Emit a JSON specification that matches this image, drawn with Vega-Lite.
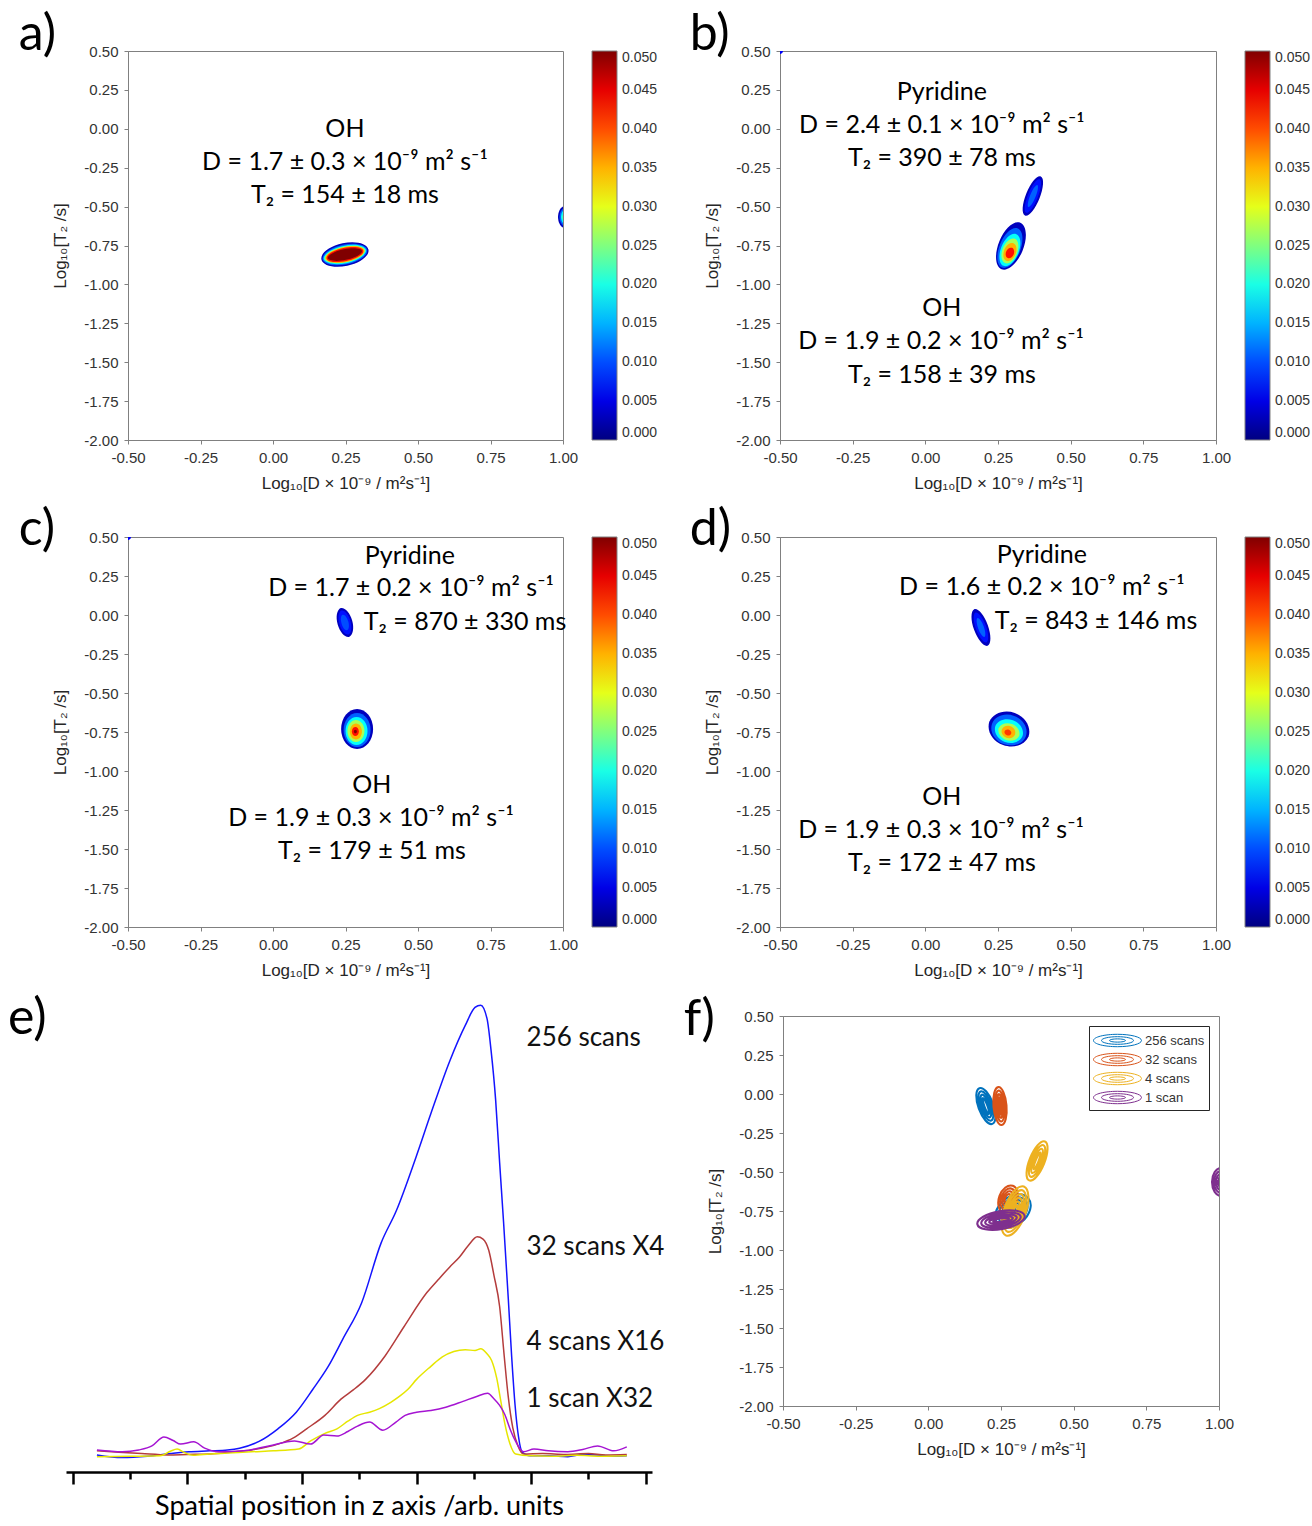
{
  "$schema": "https://vega.github.io/schema/vega-lite/v6.json",
  "background": "white",
  "padding": {"left": 0, "top": 9, "right": 0, "bottom": 0},
  "spacing": 0,
  "resolve": {"scale": {"color": "independent", "shape": "independent"}, "legend": {"color": "independent"}},
  "config": {
    "view": {"stroke": "#808080", "strokeWidth": 1},
    "axis": {"labelFont": "Liberation Sans", "labelFontSize": 15, "labelColor": "#333333", "titleFont": "Liberation Sans", "titleFontSize": 17, "titleFontWeight": "normal", "titleColor": "#262626", "domainColor": "#808080", "tickColor": "#808080", "grid": false, "labelFlush": false, "labelOverlap": false, "labelSeparation": 0, "labelBound": false, "tickSize": 4},
    "axisY": {"labelOverlap": false, "labelSeparation": 0},
    "title": {"font": "Lato", "fontSize": 50, "fontWeight": "normal", "anchor": "start", "frame": "bounds", "color": "black", "offset": -16},
    "legend": {"labelFont": "Liberation Sans", "labelFontSize": 14, "labelColor": "#333333"}
  },
  "datasets": {
    "contours": [
      {"p": "a", "id": "a1", "level": 0.003, "x": 0.248, "y": -0.808},
      {"p": "a", "id": "a2", "level": 0.011, "x": 0.248, "y": -0.808},
      {"p": "a", "id": "a3", "level": 0.019, "x": 0.248, "y": -0.808},
      {"p": "a", "id": "a4", "level": 0.027, "x": 0.248, "y": -0.808},
      {"p": "a", "id": "a5", "level": 0.035, "x": 0.248, "y": -0.808},
      {"p": "a", "id": "a6", "level": 0.043, "x": 0.248, "y": -0.808},
      {"p": "a", "id": "a7", "level": 0.05, "x": 0.248, "y": -0.808},
      {"p": "a", "id": "ae1", "level": 0.003, "x": 1.007, "y": -0.567},
      {"p": "a", "id": "ae2", "level": 0.011, "x": 1.007, "y": -0.567},
      {"p": "a", "id": "ae3", "level": 0.019, "x": 1.007, "y": -0.567},
      {"p": "a", "id": "ae4", "level": 0.025, "x": 1.007, "y": -0.567},
      {"p": "b", "id": "bc", "level": 0.006, "x": -0.5, "y": 0.5},
      {"p": "b", "id": "bu1", "level": 0.003, "x": 0.370, "y": -0.432},
      {"p": "b", "id": "bu2", "level": 0.007, "x": 0.370, "y": -0.432},
      {"p": "b", "id": "bu3", "level": 0.011, "x": 0.370, "y": -0.432},
      {"p": "b", "id": "bl1", "level": 0.003, "x": 0.2946, "y": -0.753},
      {"p": "b", "id": "bl2", "level": 0.011, "x": 0.291, "y": -0.766},
      {"p": "b", "id": "bl3", "level": 0.019, "x": 0.291, "y": -0.779},
      {"p": "b", "id": "bl4", "level": 0.027, "x": 0.291, "y": -0.785},
      {"p": "b", "id": "bl5", "level": 0.035, "x": 0.291, "y": -0.792},
      {"p": "b", "id": "bl6", "level": 0.043, "x": 0.291, "y": -0.798},
      {"p": "c", "id": "cc", "level": 0.006, "x": -0.5, "y": 0.5},
      {"p": "c", "id": "cp1", "level": 0.003, "x": 0.248, "y": -0.048},
      {"p": "c", "id": "cp2", "level": 0.007, "x": 0.248, "y": -0.048},
      {"p": "c", "id": "cp3", "level": 0.010, "x": 0.248, "y": -0.048},
      {"p": "c", "id": "co1", "level": 0.003, "x": 0.290, "y": -0.731},
      {"p": "c", "id": "co2", "level": 0.011, "x": 0.290, "y": -0.737},
      {"p": "c", "id": "co3", "level": 0.019, "x": 0.288, "y": -0.744},
      {"p": "c", "id": "co4", "level": 0.027, "x": 0.286, "y": -0.744},
      {"p": "c", "id": "co5", "level": 0.035, "x": 0.286, "y": -0.747},
      {"p": "c", "id": "co6", "level": 0.043, "x": 0.284, "y": -0.747},
      {"p": "c", "id": "co7", "level": 0.05, "x": 0.284, "y": -0.747},
      {"p": "d", "id": "dp1", "level": 0.003, "x": 0.1914, "y": -0.080},
      {"p": "d", "id": "dp2", "level": 0.007, "x": 0.1914, "y": -0.080},
      {"p": "d", "id": "dp3", "level": 0.011, "x": 0.1914, "y": -0.080},
      {"p": "d", "id": "do1", "level": 0.003, "x": 0.2877, "y": -0.731},
      {"p": "d", "id": "do2", "level": 0.011, "x": 0.2877, "y": -0.737},
      {"p": "d", "id": "do3", "level": 0.019, "x": 0.2877, "y": -0.744},
      {"p": "d", "id": "do4", "level": 0.027, "x": 0.2877, "y": -0.750},
      {"p": "d", "id": "do5", "level": 0.035, "x": 0.286, "y": -0.750},
      {"p": "d", "id": "do6", "level": 0.041, "x": 0.284, "y": -0.753}
    ],
    "labels": [
      {"p": "a", "text": "OH", "x": 0.248, "y": -0.001},
      {"p": "a", "text": "D = 1.7 ± 0.3 × 10⁻⁹ m² s⁻¹", "x": 0.248, "y": -0.213},
      {"p": "a", "text": "T₂ = 154 ± 18 ms", "x": 0.248, "y": -0.425},
      {"p": "b", "text": "Pyridine", "x": 0.057, "y": 0.236},
      {"p": "b", "text": "D = 2.4 ± 0.1 × 10⁻⁹ m² s⁻¹", "x": 0.057, "y": 0.024},
      {"p": "b", "text": "T₂ = 390 ± 78 ms", "x": 0.057, "y": -0.188},
      {"p": "b", "text": "OH", "x": 0.057, "y": -1.152},
      {"p": "b", "text": "D = 1.9 ± 0.2 × 10⁻⁹ m² s⁻¹", "x": 0.054, "y": -1.364},
      {"p": "b", "text": "T₂ = 158 ± 39 ms", "x": 0.057, "y": -1.582},
      {"p": "c", "text": "Pyridine", "x": 0.472, "y": 0.378},
      {"p": "c", "text": "D = 1.7 ± 0.2 × 10⁻⁹ m² s⁻¹", "x": 0.476, "y": 0.173},
      {"p": "c", "text": "T₂ = 870 ± 330 ms", "x": 0.662, "y": -0.045},
      {"p": "c", "text": "OH", "x": 0.341, "y": -1.090},
      {"p": "c", "text": "D = 1.9 ± 0.3 × 10⁻⁹ m² s⁻¹", "x": 0.338, "y": -1.301},
      {"p": "c", "text": "T₂ = 179 ± 51 ms", "x": 0.341, "y": -1.513},
      {"p": "d", "text": "Pyridine", "x": 0.401, "y": 0.385},
      {"p": "d", "text": "D = 1.6 ± 0.2 × 10⁻⁹ m² s⁻¹", "x": 0.401, "y": 0.179},
      {"p": "d", "text": "T₂ = 843 ± 146 ms", "x": 0.587, "y": -0.038},
      {"p": "d", "text": "OH", "x": 0.057, "y": -1.167},
      {"p": "d", "text": "D = 1.9 ± 0.3 × 10⁻⁹ m² s⁻¹", "x": 0.054, "y": -1.378},
      {"p": "d", "text": "T₂ = 172 ± 47 ms", "x": 0.057, "y": -1.590}
    ],
    "fcontours": [
      {"series": "256 scans", "id": "fb1", "x": 0.198, "y": -0.077},
      {"series": "256 scans", "id": "fb2", "x": 0.291, "y": -0.750},
      {"series": "32 scans", "id": "fo1", "x": 0.2465, "y": -0.077},
      {"series": "32 scans", "id": "fo2", "x": 0.274, "y": -0.673},
      {"series": "4 scans", "id": "fy1", "x": 0.374, "y": -0.429},
      {"series": "4 scans", "id": "fy2", "x": 0.298, "y": -0.750},
      {"series": "1 scan", "id": "fp1", "x": 0.250, "y": -0.808},
      {"series": "1 scan", "id": "fp2", "x": 1.007, "y": -0.564}
    ],
    "profiles": [
      {"series": "256 scans", "z": 4.2, "signal": 0}, {"series": "256 scans", "z": 8.6, "signal": -0.6}, {"series": "256 scans", "z": 13, "signal": -0.3}, {"series": "256 scans", "z": 17, "signal": 0.3}, {"series": "256 scans", "z": 20.2, "signal": 0.7}, {"series": "256 scans", "z": 23.9, "signal": 0.9}, {"series": "256 scans", "z": 27, "signal": 1.1}, {"series": "256 scans", "z": 29.1, "signal": 1.5}, {"series": "256 scans", "z": 32.5, "signal": 3}, {"series": "256 scans", "z": 35.8, "signal": 5.8}, {"series": "256 scans", "z": 39, "signal": 9.5}, {"series": "256 scans", "z": 41.9, "signal": 14.6}, {"series": "256 scans", "z": 44.5, "signal": 19.5}, {"series": "256 scans", "z": 47.1, "signal": 25.7}, {"series": "256 scans", "z": 50.4, "signal": 33.8}, {"series": "256 scans", "z": 53.8, "signal": 47.1}, {"series": "256 scans", "z": 56.5, "signal": 54.4}, {"series": "256 scans", "z": 59.9, "signal": 66.2}, {"series": "256 scans", "z": 62.5, "signal": 75.9}, {"series": "256 scans", "z": 65.8, "signal": 87.6}, {"series": "256 scans", "z": 68.5, "signal": 95.5}, {"series": "256 scans", "z": 70.2, "signal": 99.5}, {"series": "256 scans", "z": 71.2, "signal": 100}, {"series": "256 scans", "z": 72.3, "signal": 97}, {"series": "256 scans", "z": 73.0, "signal": 90}, {"series": "256 scans", "z": 73.8, "signal": 79}, {"series": "256 scans", "z": 74.5, "signal": 65}, {"series": "256 scans", "z": 75.2, "signal": 51.5}, {"series": "256 scans", "z": 76.0, "signal": 35}, {"series": "256 scans", "z": 76.6, "signal": 21.9}, {"series": "256 scans", "z": 77.2, "signal": 11}, {"series": "256 scans", "z": 77.8, "signal": 4}, {"series": "256 scans", "z": 78.4, "signal": 0.7}, {"series": "256 scans", "z": 79.8, "signal": -0.2}, {"series": "256 scans", "z": 83, "signal": -0.2}, {"series": "256 scans", "z": 86.4, "signal": -0.4}, {"series": "256 scans", "z": 89, "signal": 0.1}, {"series": "256 scans", "z": 91.6, "signal": 0}, {"series": "256 scans", "z": 94, "signal": -0.3}, {"series": "256 scans", "z": 96.7, "signal": -0.2},
      {"series": "32 scans", "z": 4.2, "signal": 0.9}, {"series": "32 scans", "z": 8, "signal": 0.6}, {"series": "32 scans", "z": 12, "signal": 0.3}, {"series": "32 scans", "z": 16.6, "signal": 0}, {"series": "32 scans", "z": 20, "signal": 0.1}, {"series": "32 scans", "z": 23.9, "signal": 0.2}, {"series": "32 scans", "z": 27.5, "signal": 0.6}, {"series": "32 scans", "z": 31.2, "signal": 1.1}, {"series": "32 scans", "z": 35.8, "signal": 2.4}, {"series": "32 scans", "z": 38.5, "signal": 3.8}, {"series": "32 scans", "z": 40.8, "signal": 5.8}, {"series": "32 scans", "z": 44, "signal": 8.8}, {"series": "32 scans", "z": 46.8, "signal": 12.4}, {"series": "32 scans", "z": 49, "signal": 14.5}, {"series": "32 scans", "z": 51.1, "signal": 16.8}, {"series": "32 scans", "z": 54.5, "signal": 22}, {"series": "32 scans", "z": 57.8, "signal": 28.5}, {"series": "32 scans", "z": 61.8, "signal": 36.1}, {"series": "32 scans", "z": 63.8, "signal": 39}, {"series": "32 scans", "z": 65.8, "signal": 41.8}, {"series": "32 scans", "z": 67.5, "signal": 44}, {"series": "32 scans", "z": 69, "signal": 46.5}, {"series": "32 scans", "z": 70.6, "signal": 48.5}, {"series": "32 scans", "z": 71.6, "signal": 48}, {"series": "32 scans", "z": 72.6, "signal": 45.5}, {"series": "32 scans", "z": 73.5, "signal": 40}, {"series": "32 scans", "z": 74.5, "signal": 33}, {"series": "32 scans", "z": 75.3, "signal": 22}, {"series": "32 scans", "z": 76.0, "signal": 13}, {"series": "32 scans", "z": 76.8, "signal": 6}, {"series": "32 scans", "z": 77.7, "signal": 2}, {"series": "32 scans", "z": 78.7, "signal": 0.2}, {"series": "32 scans", "z": 82, "signal": 0.3}, {"series": "32 scans", "z": 86, "signal": 0.1}, {"series": "32 scans", "z": 90, "signal": 0.3}, {"series": "32 scans", "z": 93, "signal": 0}, {"series": "32 scans", "z": 96.7, "signal": 0.1},
      {"series": "4 scans", "z": 4.2, "signal": -0.4}, {"series": "4 scans", "z": 10, "signal": -0.3}, {"series": "4 scans", "z": 15.2, "signal": -0.2}, {"series": "4 scans", "z": 17, "signal": 0.8}, {"series": "4 scans", "z": 18.2, "signal": 1.3}, {"series": "4 scans", "z": 19.5, "signal": 0.5}, {"series": "4 scans", "z": 21, "signal": -0.1}, {"series": "4 scans", "z": 23.9, "signal": 0.2}, {"series": "4 scans", "z": 27, "signal": 0.4}, {"series": "4 scans", "z": 31.2, "signal": 0.7}, {"series": "4 scans", "z": 35, "signal": 0.9}, {"series": "4 scans", "z": 39.4, "signal": 1.3}, {"series": "4 scans", "z": 41.5, "signal": 3.1}, {"series": "4 scans", "z": 44, "signal": 4.8}, {"series": "4 scans", "z": 46.1, "signal": 5.8}, {"series": "4 scans", "z": 48, "signal": 7.5}, {"series": "4 scans", "z": 49.7, "signal": 8.8}, {"series": "4 scans", "z": 51.8, "signal": 9.5}, {"series": "4 scans", "z": 53.5, "signal": 10.3}, {"series": "4 scans", "z": 55.5, "signal": 11.7}, {"series": "4 scans", "z": 57, "signal": 13}, {"series": "4 scans", "z": 58.5, "signal": 14.6}, {"series": "4 scans", "z": 60.0, "signal": 16.8}, {"series": "4 scans", "z": 62.5, "signal": 19.7}, {"series": "4 scans", "z": 64.5, "signal": 21.8}, {"series": "4 scans", "z": 66.5, "signal": 23.0}, {"series": "4 scans", "z": 68.5, "signal": 23.4}, {"series": "4 scans", "z": 70.2, "signal": 23.2}, {"series": "4 scans", "z": 71.2, "signal": 23.6}, {"series": "4 scans", "z": 72.3, "signal": 22.5}, {"series": "4 scans", "z": 73.1, "signal": 21}, {"series": "4 scans", "z": 74, "signal": 17}, {"series": "4 scans", "z": 74.7, "signal": 12}, {"series": "4 scans", "z": 75.4, "signal": 7}, {"series": "4 scans", "z": 76.3, "signal": 2.5}, {"series": "4 scans", "z": 77.3, "signal": 0.2}, {"series": "4 scans", "z": 80, "signal": -0.2}, {"series": "4 scans", "z": 84, "signal": -0.3}, {"series": "4 scans", "z": 88, "signal": -0.1}, {"series": "4 scans", "z": 92, "signal": -0.3}, {"series": "4 scans", "z": 96.7, "signal": -0.2},
      {"series": "1 scan", "z": 4.2, "signal": 1.1}, {"series": "1 scan", "z": 8.6, "signal": 0.7}, {"series": "1 scan", "z": 11.5, "signal": 1.1}, {"series": "1 scan", "z": 13.8, "signal": 2.0}, {"series": "1 scan", "z": 15.9, "signal": 4.0}, {"series": "1 scan", "z": 17.5, "signal": 3.2}, {"series": "1 scan", "z": 18.8, "signal": 2.4}, {"series": "1 scan", "z": 21.1, "signal": 2.9}, {"series": "1 scan", "z": 23, "signal": 1.5}, {"series": "1 scan", "z": 25.5, "signal": 0.7}, {"series": "1 scan", "z": 29.8, "signal": 0.9}, {"series": "1 scan", "z": 34.2, "signal": 2.0}, {"series": "1 scan", "z": 38.7, "signal": 3.1}, {"series": "1 scan", "z": 41.5, "signal": 2.4}, {"series": "1 scan", "z": 43.8, "signal": 4.4}, {"series": "1 scan", "z": 46.1, "signal": 4.2}, {"series": "1 scan", "z": 48, "signal": 5.2}, {"series": "1 scan", "z": 49.7, "signal": 6.4}, {"series": "1 scan", "z": 51.8, "signal": 7.3}, {"series": "1 scan", "z": 54.1, "signal": 5.5}, {"series": "1 scan", "z": 56.4, "signal": 7.3}, {"series": "1 scan", "z": 58, "signal": 8.8}, {"series": "1 scan", "z": 60.0, "signal": 9.5}, {"series": "1 scan", "z": 62.5, "signal": 9.9}, {"series": "1 scan", "z": 65.1, "signal": 10.6}, {"series": "1 scan", "z": 68.1, "signal": 11.9}, {"series": "1 scan", "z": 70.5, "signal": 13}, {"series": "1 scan", "z": 72.4, "signal": 13.7}, {"series": "1 scan", "z": 73.5, "signal": 12.5}, {"series": "1 scan", "z": 74.5, "signal": 11}, {"series": "1 scan", "z": 75.4, "signal": 9}, {"series": "1 scan", "z": 76.4, "signal": 5.5}, {"series": "1 scan", "z": 77.3, "signal": 3.0}, {"series": "1 scan", "z": 78.7, "signal": 0.7}, {"series": "1 scan", "z": 80.5, "signal": 1.3}, {"series": "1 scan", "z": 83, "signal": 0.9}, {"series": "1 scan", "z": 86.4, "signal": 0.7}, {"series": "1 scan", "z": 89, "signal": 1.2}, {"series": "1 scan", "z": 91.6, "signal": 2.0}, {"series": "1 scan", "z": 94.4, "signal": 0.9}, {"series": "1 scan", "z": 96.7, "signal": 1.8}
    ],
    "profileLabels": [
      {"text": "256 scans", "z": 79.2, "signal": 92.7},
      {"text": "32 scans X4", "z": 79.2, "signal": 46.2},
      {"text": "4 scans X16", "z": 79.2, "signal": 25.2},
      {"text": "1 scan X32", "z": 79.2, "signal": 12.4}
    ],
    "empty": []
  },
  "vconcat": [
    {
      "spacing": 0,
      "resolve": {"scale": {"color": "independent", "shape": "independent"}, "legend": {"color": "independent"}},
      "hconcat": [
        {"width": 18, "height": 453, "data": {"name": "empty"}, "mark": "point", "encoding": {}, "view": {"stroke": null}},
        {
          "spacing": 30,
          "resolve": {"scale": {"color": "independent", "shape": "independent"}, "legend": {"color": "independent"}},
          "hconcat": [
            {
              "width": 435, "height": 389,
              "title": {"text": "a)", "dx": -33, "offset": -16},
              "layer": [
                {
                  "data": {"name": "contours"},
                  "transform": [{"filter": "datum.p === 'a'"}],
                  "mark": {"type": "point", "filled": true, "size": 4, "opacity": 1, "strokeWidth": 0, "clip": true},
                  "encoding": {
                    "x": {"field": "x", "type": "quantitative", "scale": {"domain": [-0.5, 1], "nice": false, "zero": false}, "axis": {"title": "Log₁₀[D × 10⁻⁹ / m²s⁻¹]", "values": [-0.5, -0.25, 0, 0.25, 0.5, 0.75, 1], "format": ".2f", "labelExpr": "replace(datum.label, '−', '-')", "labelOverlap": false, "labelPadding": 6, "titlePadding": 10}},
                    "y": {"field": "y", "type": "quantitative", "scale": {"domain": [-2, 0.5], "nice": false, "zero": false}, "axis": {"title": "Log₁₀[T₂ /s]", "values": [-2, -1.75, -1.5, -1.25, -1, -0.75, -0.5, -0.25, 0, 0.25, 0.5], "tickCount": 11, "format": ".2f", "labelExpr": "replace(datum.label, '−', '-')", "labelOverlap": false, "labelSeparation": 0, "labelPadding": 6, "titlePadding": 14}},
                    "color": {"field": "level", "type": "quantitative", "scale": {"type": "linear", "domain": [0, 0.00625, 0.01875, 0.03125, 0.04375, 0.05], "range": ["#000080", "#0000ff", "#00ffff", "#ffff00", "#ff0000", "#800000"], "interpolate": "rgb", "clamp": true}, "legend": {"orient": "right", "offset": 29, "title": null, "direction": "vertical", "gradientLength": 389, "gradientThickness": 25, "values": [0, 0.005, 0.01, 0.015, 0.02, 0.025, 0.03, 0.035, 0.04, 0.045, 0.05], "format": ".3f", "labelOverlap": false, "labelOffset": 5, "labelBaseline": "middle", "gradientStrokeColor": "#808080", "gradientStrokeWidth": 1}},
                    "shape": {"field": "id", "type": "nominal", "legend": null, "scale": {
                      "domain": ["a1", "a2", "a3", "a4", "a5", "a6", "a7", "ae1", "ae2", "ae3", "ae4"],
                      "range": [
                        "M23.5,-5A24,11.5,-12,0,0,-23.5,5A24,11.5,-12,0,0,23.5,-5Z",
                        "M22.3,-4.7A22.8,10.3,-12,0,0,-22.3,4.7A22.8,10.3,-12,0,0,22.3,-4.7Z",
                        "M21.3,-4.5A21.8,9.3,-12,0,0,-21.3,4.5A21.8,9.3,-12,0,0,21.3,-4.5Z",
                        "M20.3,-4.3A20.8,8.4,-12,0,0,-20.3,4.3A20.8,8.4,-12,0,0,20.3,-4.3Z",
                        "M19.4,-4.1A19.8,7.5,-12,0,0,-19.4,4.1A19.8,7.5,-12,0,0,19.4,-4.1Z",
                        "M18.3,-3.9A18.7,6.6,-12,0,0,-18.3,3.9A18.7,6.6,-12,0,0,18.3,-3.9Z",
                        "M17.1,-3.6A17.5,5.7,-12,0,0,-17.1,3.6A17.5,5.7,-12,0,0,17.1,-3.6Z",
                        "M0,-11A7,11,0,0,0,0,11A7,11,0,0,0,0,-11Z",
                        "M0,-9A5.5,9,0,0,0,0,9A5.5,9,0,0,0,0,-9Z",
                        "M0,-7A4,7,0,0,0,0,7A4,7,0,0,0,0,-7Z",
                        "M0,-4.5A2.5,4.5,0,0,0,0,4.5A2.5,4.5,0,0,0,0,-4.5Z"
                      ]}}
                  }
                },
                {
                  "data": {"name": "labels"},
                  "transform": [{"filter": "datum.p === 'a'"}],
                  "mark": {"type": "text", "font": "Lato", "fontSize": 25, "align": "center", "baseline": "middle", "color": "black"},
                  "encoding": {
                    "x": {"field": "x", "type": "quantitative"},
                    "y": {"field": "y", "type": "quantitative"},
                    "text": {"field": "text", "type": "nominal"}
                  }
                }
              ]
            },
            {
              "width": 436, "height": 389,
              "title": {"text": "b)", "dx": -14, "offset": -16},
              "layer": [
                {
                  "data": {"name": "contours"},
                  "transform": [{"filter": "datum.p === 'b'"}],
                  "mark": {"type": "point", "filled": true, "size": 4, "opacity": 1, "strokeWidth": 0, "clip": true},
                  "encoding": {
                    "x": {"field": "x", "type": "quantitative", "scale": {"domain": [-0.5, 1], "nice": false, "zero": false}, "axis": {"title": "Log₁₀[D × 10⁻⁹ / m²s⁻¹]", "values": [-0.5, -0.25, 0, 0.25, 0.5, 0.75, 1], "format": ".2f", "labelExpr": "replace(datum.label, '−', '-')", "labelOverlap": false, "labelPadding": 6, "titlePadding": 10}},
                    "y": {"field": "y", "type": "quantitative", "scale": {"domain": [-2, 0.5], "nice": false, "zero": false}, "axis": {"title": "Log₁₀[T₂ /s]", "values": [-2, -1.75, -1.5, -1.25, -1, -0.75, -0.5, -0.25, 0, 0.25, 0.5], "tickCount": 11, "format": ".2f", "labelExpr": "replace(datum.label, '−', '-')", "labelOverlap": false, "labelSeparation": 0, "labelPadding": 6, "titlePadding": 14}},
                    "color": {"field": "level", "type": "quantitative", "scale": {"type": "linear", "domain": [0, 0.00625, 0.01875, 0.03125, 0.04375, 0.05], "range": ["#000080", "#0000ff", "#00ffff", "#ffff00", "#ff0000", "#800000"], "interpolate": "rgb", "clamp": true}, "legend": {"orient": "right", "offset": 29, "title": null, "direction": "vertical", "gradientLength": 389, "gradientThickness": 25, "values": [0, 0.005, 0.01, 0.015, 0.02, 0.025, 0.03, 0.035, 0.04, 0.045, 0.05], "format": ".3f", "labelOverlap": false, "labelOffset": 5, "labelBaseline": "middle", "gradientStrokeColor": "#808080", "gradientStrokeWidth": 1}},
                    "shape": {"field": "id", "type": "nominal", "legend": null, "scale": {
                      "domain": ["bc", "bu1", "bu2", "bu3", "bl1", "bl2", "bl3", "bl4", "bl5", "bl6"],
                      "range": [
                        "M0,-3A3,3,0,0,0,0,3A3,3,0,0,0,0,-3Z",
                        "M7.9,-19.5A21,7,-68,0,0,-7.9,19.5A21,7,-68,0,0,7.9,-19.5Z",
                        "M6.75,-16.7A18,5,-68,0,0,-6.75,16.7A18,5,-68,0,0,6.75,-16.7Z",
                        "M4.5,-11.1A12,3,-68,0,0,-4.5,11.1A12,3,-68,0,0,4.5,-11.1Z",
                        "M9.4,-23.2A25,12.5,-68,0,0,-9.4,23.2A25,12.5,-68,0,0,9.4,-23.2Z",
                        "M7.9,-19.5A21,10.5,-68,0,0,-7.9,19.5A21,10.5,-68,0,0,7.9,-19.5Z",
                        "M6.4,-15.8A17,9,-68,0,0,-6.4,15.8A17,9,-68,0,0,6.4,-15.8Z",
                        "M4.9,-12.1A13,7.5,-68,0,0,-4.9,12.1A13,7.5,-68,0,0,4.9,-12.1Z",
                        "M3.6,-8.8A9.5,6,-68,0,0,-3.6,8.8A9.5,6,-68,0,0,3.6,-8.8Z",
                        "M2.1,-5.1A5.5,4,-68,0,0,-2.1,5.1A5.5,4,-68,0,0,2.1,-5.1Z"
                      ]}}
                  }
                },
                {
                  "data": {"name": "labels"},
                  "transform": [{"filter": "datum.p === 'b'"}],
                  "mark": {"type": "text", "font": "Lato", "fontSize": 25, "align": "center", "baseline": "middle", "color": "black"},
                  "encoding": {
                    "x": {"field": "x", "type": "quantitative"},
                    "y": {"field": "y", "type": "quantitative"},
                    "text": {"field": "text", "type": "nominal"}
                  }
                }
              ]
            }
          ]
        }
      ]
    },
    {
      "spacing": 0,
      "resolve": {"scale": {"color": "independent", "shape": "independent"}, "legend": {"color": "independent"}},
      "hconcat": [
        {"width": 18, "height": 457, "data": {"name": "empty"}, "mark": "point", "encoding": {}, "view": {"stroke": null}},
        {
          "spacing": 30,
          "resolve": {"scale": {"color": "independent", "shape": "independent"}, "legend": {"color": "independent"}},
          "hconcat": [
            {
              "width": 435, "height": 390,
              "title": {"text": "c)", "dx": -33, "offset": -25},
              "layer": [
                {
                  "data": {"name": "contours"},
                  "transform": [{"filter": "datum.p === 'c'"}],
                  "mark": {"type": "point", "filled": true, "size": 4, "opacity": 1, "strokeWidth": 0, "clip": true},
                  "encoding": {
                    "x": {"field": "x", "type": "quantitative", "scale": {"domain": [-0.5, 1], "nice": false, "zero": false}, "axis": {"title": "Log₁₀[D × 10⁻⁹ / m²s⁻¹]", "values": [-0.5, -0.25, 0, 0.25, 0.5, 0.75, 1], "format": ".2f", "labelExpr": "replace(datum.label, '−', '-')", "labelOverlap": false, "labelPadding": 6, "titlePadding": 10}},
                    "y": {"field": "y", "type": "quantitative", "scale": {"domain": [-2, 0.5], "nice": false, "zero": false}, "axis": {"title": "Log₁₀[T₂ /s]", "values": [-2, -1.75, -1.5, -1.25, -1, -0.75, -0.5, -0.25, 0, 0.25, 0.5], "tickCount": 11, "format": ".2f", "labelExpr": "replace(datum.label, '−', '-')", "labelOverlap": false, "labelSeparation": 0, "labelPadding": 6, "titlePadding": 14}},
                    "color": {"field": "level", "type": "quantitative", "scale": {"type": "linear", "domain": [0, 0.00625, 0.01875, 0.03125, 0.04375, 0.05], "range": ["#000080", "#0000ff", "#00ffff", "#ffff00", "#ff0000", "#800000"], "interpolate": "rgb", "clamp": true}, "legend": {"orient": "right", "offset": 29, "title": null, "direction": "vertical", "gradientLength": 390, "gradientThickness": 25, "values": [0, 0.005, 0.01, 0.015, 0.02, 0.025, 0.03, 0.035, 0.04, 0.045, 0.05], "format": ".3f", "labelOverlap": false, "labelOffset": 5, "labelBaseline": "middle", "gradientStrokeColor": "#808080", "gradientStrokeWidth": 1}},
                    "shape": {"field": "id", "type": "nominal", "legend": null, "scale": {
                      "domain": ["cc", "cp1", "cp2", "cp3", "co1", "co2", "co3", "co4", "co5", "co6", "co7"],
                      "range": [
                        "M0,-3A3,3,0,0,0,0,3A3,3,0,0,0,0,-3Z",
                        "M4.1,14.4A15,8,74,0,0,-4.1,-14.4A15,8,74,0,0,4.1,14.4Z",
                        "M3.45,12A12.5,6,74,0,0,-3.45,-12A12.5,6,74,0,0,3.45,12Z",
                        "M2.2,7.7A8,3.5,74,0,0,-2.2,-7.7A8,3.5,74,0,0,2.2,7.7Z",
                        "M0,-20A16,20,0,0,0,0,20A16,20,0,0,0,0,-20Z",
                        "M0,-17A13.5,17,0,0,0,0,17A13.5,17,0,0,0,0,-17Z",
                        "M0,-14A11,14,0,0,0,0,14A11,14,0,0,0,0,-14Z",
                        "M0,-11A8.5,11,0,0,0,0,11A8.5,11,0,0,0,0,-11Z",
                        "M0,-8A6,8,0,0,0,0,8A6,8,0,0,0,0,-8Z",
                        "M0,-4.5A3.5,4.5,0,0,0,0,4.5A3.5,4.5,0,0,0,0,-4.5Z",
                        "M0,-1.8A1.5,1.8,0,0,0,0,1.8A1.5,1.8,0,0,0,0,-1.8Z"
                      ]}}
                  }
                },
                {
                  "data": {"name": "labels"},
                  "transform": [{"filter": "datum.p === 'c'"}],
                  "mark": {"type": "text", "font": "Lato", "fontSize": 25, "align": "center", "baseline": "middle", "color": "black"},
                  "encoding": {
                    "x": {"field": "x", "type": "quantitative"},
                    "y": {"field": "y", "type": "quantitative"},
                    "text": {"field": "text", "type": "nominal"}
                  }
                }
              ]
            },
            {
              "width": 436, "height": 390,
              "title": {"text": "d)", "dx": -14, "offset": -25},
              "layer": [
                {
                  "data": {"name": "contours"},
                  "transform": [{"filter": "datum.p === 'd'"}],
                  "mark": {"type": "point", "filled": true, "size": 4, "opacity": 1, "strokeWidth": 0, "clip": true},
                  "encoding": {
                    "x": {"field": "x", "type": "quantitative", "scale": {"domain": [-0.5, 1], "nice": false, "zero": false}, "axis": {"title": "Log₁₀[D × 10⁻⁹ / m²s⁻¹]", "values": [-0.5, -0.25, 0, 0.25, 0.5, 0.75, 1], "format": ".2f", "labelExpr": "replace(datum.label, '−', '-')", "labelOverlap": false, "labelPadding": 6, "titlePadding": 10}},
                    "y": {"field": "y", "type": "quantitative", "scale": {"domain": [-2, 0.5], "nice": false, "zero": false}, "axis": {"title": "Log₁₀[T₂ /s]", "values": [-2, -1.75, -1.5, -1.25, -1, -0.75, -0.5, -0.25, 0, 0.25, 0.5], "tickCount": 11, "format": ".2f", "labelExpr": "replace(datum.label, '−', '-')", "labelOverlap": false, "labelSeparation": 0, "labelPadding": 6, "titlePadding": 14}},
                    "color": {"field": "level", "type": "quantitative", "scale": {"type": "linear", "domain": [0, 0.00625, 0.01875, 0.03125, 0.04375, 0.05], "range": ["#000080", "#0000ff", "#00ffff", "#ffff00", "#ff0000", "#800000"], "interpolate": "rgb", "clamp": true}, "legend": {"orient": "right", "offset": 29, "title": null, "direction": "vertical", "gradientLength": 390, "gradientThickness": 25, "values": [0, 0.005, 0.01, 0.015, 0.02, 0.025, 0.03, 0.035, 0.04, 0.045, 0.05], "format": ".3f", "labelOverlap": false, "labelOffset": 5, "labelBaseline": "middle", "gradientStrokeColor": "#808080", "gradientStrokeWidth": 1}},
                    "shape": {"field": "id", "type": "nominal", "legend": null, "scale": {
                      "domain": ["dp1", "dp2", "dp3", "do1", "do2", "do3", "do4", "do5", "do6"],
                      "range": [
                        "M6.7,18.3A19.5,7.5,70,0,0,-6.7,-18.3A19.5,7.5,70,0,0,6.7,18.3Z",
                        "M5.5,15A16,5.5,70,0,0,-5.5,-15A16,5.5,70,0,0,5.5,15Z",
                        "M3.4,9.4A10,3,70,0,0,-3.4,-9.4A10,3,70,0,0,3.4,9.4Z",
                        "M19.7,7.2A21,18,20,0,0,-19.7,-7.2A21,18,20,0,0,19.7,7.2Z",
                        "M16.9,6.2A18,15,20,0,0,-16.9,-6.2A18,15,20,0,0,16.9,6.2Z",
                        "M13.6,5A14.5,12,20,0,0,-13.6,-5A14.5,12,20,0,0,13.6,5Z",
                        "M10.3,3.8A11,9,20,0,0,-10.3,-3.8A11,9,20,0,0,10.3,3.8Z",
                        "M6.6,2.4A7,6,20,0,0,-6.6,-2.4A7,6,20,0,0,6.6,2.4Z",
                        "M3.3,1.2A3.5,3,20,0,0,-3.3,-1.2A3.5,3,20,0,0,3.3,1.2Z"
                      ]}}
                  }
                },
                {
                  "data": {"name": "labels"},
                  "transform": [{"filter": "datum.p === 'd'"}],
                  "mark": {"type": "text", "font": "Lato", "fontSize": 25, "align": "center", "baseline": "middle", "color": "black"},
                  "encoding": {
                    "x": {"field": "x", "type": "quantitative"},
                    "y": {"field": "y", "type": "quantitative"},
                    "text": {"field": "text", "type": "nominal"}
                  }
                }
              ]
            }
          ]
        }
      ]
    },
    {
      "spacing": 0,
      "resolve": {"scale": {"color": "independent", "shape": "independent"}, "legend": {"color": "independent"}},
      "hconcat": [
        {"width": 8, "height": 400, "data": {"name": "empty"}, "mark": "point", "encoding": {}, "view": {"stroke": null}},
        {
          "spacing": 18,
          "resolve": {"scale": {"color": "independent", "shape": "independent"}, "legend": {"color": "independent"}},
          "hconcat": [
            {
              "width": 586, "height": 456,
              "title": {"text": "e)", "dx": -58, "offset": -42},
              "view": {"stroke": null},
              "layer": [
                {
                  "data": {"name": "profiles"},
                  "mark": {"type": "line", "strokeWidth": 1.5, "interpolate": "monotone"},
                  "encoding": {
                    "x": {"field": "z", "type": "quantitative", "scale": {"domain": [-1.2, 101.1], "nice": false, "zero": false}, "axis": {"orient": "bottom", "values": [0, 10, 20, 30, 40, 50, 60, 70, 80, 90, 100], "labels": false, "domainColor": "black", "domainWidth": 2.5, "tickColor": "black", "tickWidth": 2.5, "tickSize": {"condition": {"test": "datum.value % 20 === 0", "value": 12}, "value": 7}, "title": "Spatial position in z axis /arb. units", "titleFont": "Lato", "titleFontSize": 27, "titleColor": "black", "titlePadding": 8}},
                    "y": {"field": "signal", "type": "quantitative", "scale": {"domain": [-3.8, 97.6], "nice": false, "zero": false}, "axis": null},
                    "color": {"field": "series", "type": "nominal", "scale": {"domain": ["256 scans", "32 scans", "4 scans", "1 scan"], "range": ["#1414ff", "#b43c3c", "#e6e600", "#a514d2"]}, "legend": null}
                  }
                },
                {
                  "data": {"name": "profileLabels"},
                  "mark": {"type": "text", "font": "Lato", "fontSize": 26, "align": "left", "baseline": "middle", "color": "#111111"},
                  "encoding": {
                    "x": {"field": "z", "type": "quantitative"},
                    "y": {"field": "signal", "type": "quantitative"},
                    "text": {"field": "text", "type": "nominal"}
                  }
                }
              ]
            },
            {
              "width": 436, "height": 390,
              "title": {"text": "f)", "dx": -23, "offset": -36},
              "layer": [
                {
                  "data": {"name": "fcontours"},
                  "mark": {"type": "point", "filled": false, "size": 4, "opacity": 1, "strokeWidth": 2.1, "clip": true},
                  "encoding": {
                    "x": {"field": "x", "type": "quantitative", "scale": {"domain": [-0.5, 1], "nice": false, "zero": false}, "axis": {"title": "Log₁₀[D × 10⁻⁹ / m²s⁻¹]", "values": [-0.5, -0.25, 0, 0.25, 0.5, 0.75, 1], "format": ".2f", "labelExpr": "replace(datum.label, '−', '-')", "labelOverlap": false, "labelPadding": 6, "titlePadding": 10}},
                    "y": {"field": "y", "type": "quantitative", "scale": {"domain": [-2, 0.5], "nice": false, "zero": false}, "axis": {"title": "Log₁₀[T₂ /s]", "values": [-2, -1.75, -1.5, -1.25, -1, -0.75, -0.5, -0.25, 0, 0.25, 0.5], "tickCount": 11, "format": ".2f", "labelExpr": "replace(datum.label, '−', '-')", "labelOverlap": false, "labelSeparation": 0, "labelPadding": 6, "titlePadding": 14}},
                    "color": {"field": "series", "type": "nominal", "scale": {"domain": ["256 scans", "32 scans", "4 scans", "1 scan"], "range": ["#0072bd", "#d95319", "#edb120", "#7e2f8e"]}, "legend": {"orient": "top-right", "offset": 10, "title": null, "strokeColor": "#262626", "fillColor": "white", "padding": 4, "rowPadding": 0, "labelFont": "Liberation Sans", "labelFontSize": 13, "labelOffset": 31, "symbolSize": 400, "symbolStrokeWidth": 1, "symbolType": "M-1,0A2.4,0.62,0,0,0,3.8,0A2.4,0.62,0,0,0,-1,0ZM-0.2,0A1.6,0.38,0,0,0,3,0A1.6,0.38,0,0,0,-0.2,0ZM0.6,0A0.8,0.16,0,0,0,2.2,0A0.8,0.16,0,0,0,0.6,0Z"}},
                    "shape": {"field": "id", "type": "nominal", "legend": null, "scale": {
                      "domain": ["fb1", "fb2", "fo1", "fo2", "fy1", "fy2", "fp1", "fp2"],
                      "range": [
                        "M6.5,17.86A19,7.5,70,0,0,-6.5,-17.86A19,7.5,70,0,0,6.5,17.86ZM5.3,14.57A15.5,5.5,70,0,0,-5.3,-14.57A15.5,5.5,70,0,0,5.3,14.57ZM4.1,11.28A12,3.5,70,0,0,-4.1,-11.28A12,3.5,70,0,0,4.1,11.28ZM2.91,7.99A8.5,1.5,70,0,0,-2.91,-7.99A8.5,1.5,70,0,0,2.91,7.99Z",
                        "M15.32,-12.86A20,14,-40,0,0,-15.32,12.86A20,14,-40,0,0,15.32,-12.86ZM12.64,-10.61A16.5,11.5,-40,0,0,-12.64,10.61A16.5,11.5,-40,0,0,12.64,-10.61ZM9.96,-8.36A13,9,-40,0,0,-9.96,8.36A13,9,-40,0,0,9.96,-8.36ZM7.28,-6.11A9.5,6.5,-40,0,0,-7.28,6.11A9.5,6.5,-40,0,0,7.28,-6.11ZM4.6,-3.86A6,4,-40,0,0,-4.6,3.86A6,4,-40,0,0,4.6,-3.86ZM2.3,-1.93A3,2,-40,0,0,-2.3,1.93A3,2,-40,0,0,2.3,-1.93Z",
                        "M1.66,18.93A19,6.5,85,0,0,-1.66,-18.93A19,6.5,85,0,0,1.66,18.93ZM1.35,15.44A15.5,4.5,85,0,0,-1.35,-15.44A15.5,4.5,85,0,0,1.35,15.44ZM1.05,11.95A12,2.5,85,0,0,-1.05,-11.95A12,2.5,85,0,0,1.05,11.95ZM0.74,8.47A8.5,0.8,85,0,0,-0.74,-8.47A8.5,0.8,85,0,0,0.74,8.47Z",
                        "M4.79,-13.16A14,9,-70,0,0,-4.79,13.16A14,9,-70,0,0,4.79,-13.16ZM3.76,-10.34A11,7,-70,0,0,-3.76,10.34A11,7,-70,0,0,3.76,-10.34ZM2.74,-7.52A8,5,-70,0,0,-2.74,7.52A8,5,-70,0,0,2.74,-7.52ZM1.71,-4.7A5,3,-70,0,0,-1.71,4.7A5,3,-70,0,0,1.71,-4.7Z",
                        "M7.87,-19.47A21,7.5,-68,0,0,-7.87,19.47A21,7.5,-68,0,0,7.87,-19.47ZM6.38,-15.76A17,5.5,-68,0,0,-6.38,15.76A17,5.5,-68,0,0,6.38,-15.76ZM4.88,-12.05A13,3.5,-68,0,0,-4.88,12.05A13,3.5,-68,0,0,4.88,-12.05ZM3.38,-8.34A9,1.5,-68,0,0,-3.38,8.34A9,1.5,-68,0,0,3.38,-8.34Z",
                        "M8.89,-24.43A26,11,-70,0,0,-8.89,24.43A26,11,-70,0,0,8.89,-24.43ZM7.52,-20.67A22,9,-70,0,0,-7.52,20.67A22,9,-70,0,0,7.52,-20.67ZM6.16,-16.91A18,7,-70,0,0,-6.16,16.91A18,7,-70,0,0,6.16,-16.91ZM4.79,-13.16A14,5,-70,0,0,-4.79,13.16A14,5,-70,0,0,4.79,-13.16ZM3.42,-9.4A10,3,-70,0,0,-3.42,9.4A10,3,-70,0,0,3.42,-9.4ZM2.05,-5.64A6,1.5,-70,0,0,-2.05,5.64A6,1.5,-70,0,0,2.05,-5.64Z",
                        "M23.64,-4.17A24,9,-10,0,0,-23.64,4.17A24,9,-10,0,0,23.64,-4.17ZM19.7,-3.47A20,7,-10,0,0,-19.7,3.47A20,7,-10,0,0,19.7,-3.47ZM15.76,-2.78A16,5,-10,0,0,-15.76,2.78A16,5,-10,0,0,15.76,-2.78ZM11.82,-2.08A12,3,-10,0,0,-11.82,2.08A12,3,-10,0,0,11.82,-2.08ZM7.88,-1.39A8,1.5,-10,0,0,-7.88,1.39A8,1.5,-10,0,0,7.88,-1.39Z",
                        "M0,-14A9,14,0,0,0,0,14A9,14,0,0,0,0,-14ZM0,-11A7,11,0,0,0,0,11A7,11,0,0,0,0,-11ZM0,-8A5,8,0,0,0,0,8A5,8,0,0,0,0,-8ZM0,-5A3,5,0,0,0,0,5A3,5,0,0,0,0,-5Z"
                      ]}}
                  }
                }
              ]
            }
          ]
        }
      ]
    }
  ]
}
